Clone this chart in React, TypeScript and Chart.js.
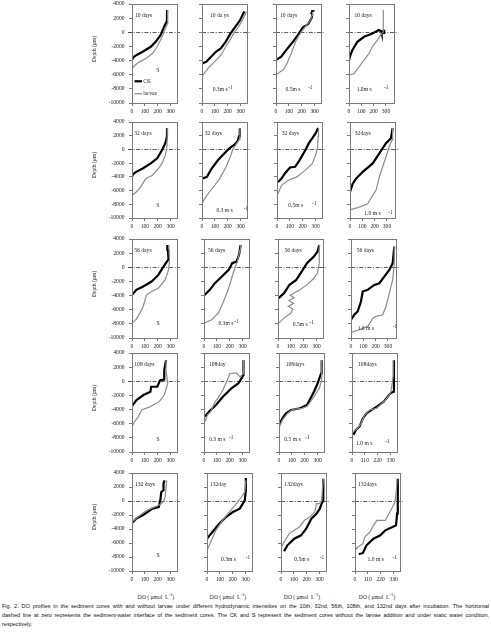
import React, { useEffect, useRef } from "react";
import { Chart, registerables } from "chart.js";

Chart.register(...registerables);

// Each profile point is [DO (µmol L-1), depth (µm)]
type Pair = [number, number];

// ---- 10 days ----
const ck10S: Pair[] = [[0, -3900], [12, -3500], [33, -3240], [83, -2760], [146, -2050], [184, -1345], [222, -400], [252, 880], [270, 1500], [272, 2400], [273, 3150]];
const lv10S: Pair[] = [[0, -5130], [20, -4700], [58, -4180], [108, -3710], [159, -3000], [196, -2050], [234, -640], [259, 550], [277, 1260], [277, 2400], [278, 3150]];
const ck10V03: Pair[] = [[0, -4420], [33, -4180], [71, -3470], [108, -2760], [146, -2290], [184, -1345], [222, -160], [259, 780], [297, 1730], [322, 2680], [330, 2950]];
const lv10V03: Pair[] = [[0, -6200], [45, -5130], [96, -4180], [146, -3240], [209, -1345], [247, -160], [285, 780], [322, 1970], [340, 2700], [345, 2950]];
const ck10V05: Pair[] = [[8, -3850], [20, -3700], [39, -3470], [79, -2530], [132, -1345], [179, -160], [210, 690], [250, 1160], [276, 1970], [282, 2500], [276, 2750], [286, 2950], [282, 3150]];
const lv10V05: Pair[] = [[8, -5930], [30, -5600], [53, -5370], [79, -4650], [118, -3000], [158, -1110], [197, 70], [237, 1020], [268, 1730], [280, 2400], [284, 2910]];
const ck10V10: Pair[] = [[0, -3950], [10, -3300], [27, -2530], [68, -1345], [122, -640], [189, -160], [243, 310], [262, 150], [265, -80], [285, -80], [285, 200], [270, 220]];
const lv10V10: Pair[] = [[0, -6080], [41, -5840], [81, -4890], [122, -3950], [162, -3000], [189, -2050], [230, -1110], [257, -400], [276, 70], [278, 1500], [276, 2400], [280, 3150]];

// ---- 32 days ----
const ck32S: Pair[] = [[0, -4000], [8, -3600], [33, -3270], [83, -2780], [146, -2040], [196, -1300], [234, -75], [259, 910], [272, 1890], [272, 2870], [272, 3100]];
const lv32S: Pair[] = [[0, -6700], [33, -6210], [58, -5720], [83, -4990], [108, -4250], [159, -3760], [196, -3020], [234, -2040], [259, -810], [272, 420], [275, 2870], [275, 3100]];
const ck32V03: Pair[] = [[5, -4250], [38, -4000], [75, -2780], [125, -1550], [175, -570], [213, 170], [250, 660], [275, 1150], [288, 1890], [293, 2870], [295, 3100]];
const lv32V03: Pair[] = [[5, -7690], [38, -6700], [88, -5480], [138, -4250], [188, -2530], [220, -1060], [238, -75], [263, 660], [288, 1400], [295, 2870], [296, 3100]];
const ck32V05: Pair[] = [[8, -4740], [35, -4250], [61, -3510], [101, -2630], [141, -2530], [176, -1550], [221, -75], [248, 910], [275, 1640], [301, 2380], [320, 3120]];
const lv32V05: Pair[] = [[8, -6460], [35, -5230], [88, -4490], [155, -4000], [221, -3020], [275, -2040], [301, -810], [315, 170], [320, 1890], [323, 3120]];
const ck32V10: Pair[] = [[0, -6210], [22, -5000], [49, -4250], [103, -3270], [184, -2040], [238, -570], [265, 170], [292, 910], [332, 1640], [346, 3120]];
const lv32V10: Pair[] = [[8, -8770], [76, -8420], [143, -7930], [184, -6700], [211, -5970], [238, -4000], [265, -2530], [292, -1060], [319, 420], [341, 1400], [346, 3120]];

// ---- 56 days ----
const ck56S: Pair[] = [[0, -3900], [34, -3190], [87, -2720], [153, -2020], [205, -1080], [245, 100], [271, 800], [284, 1130], [279, 2450], [275, 3150]];
const lv56S: Pair[] = [[0, -7890], [34, -7330], [61, -6480], [87, -5540], [113, -3900], [153, -3430], [205, -2960], [258, -1780], [284, -370], [292, 1040], [287, 3150]];
const ck56V03: Pair[] = [[5, -3900], [45, -3190], [85, -2250], [139, -1310], [192, -370], [219, 570], [253, 800], [272, 1740], [285, 3150]];
const lv56V03: Pair[] = [[5, -7890], [59, -7420], [112, -6480], [152, -4840], [192, -2960], [219, -1310], [240, -140], [259, 800], [280, 2450], [285, 3150]];
const ck56V05: Pair[] = [[5, -4370], [47, -3660], [88, -2490], [142, -1780], [184, -600], [225, 570], [279, 1510], [307, 2210], [321, 3150]];
const lv56V05: Pair[] = [[5, -7890], [47, -7190], [101, -6480], [115, -5900], [80, -5500], [120, -5100], [85, -4700], [125, -4300], [95, -3950], [170, -3190], [225, -2490], [279, -1550], [307, -840], [321, 570], [321, 3150]];
const ck56V10: Pair[] = [[0, -7420], [27, -6720], [54, -6250], [81, -4840], [95, -3430], [135, -3190], [189, -2490], [230, -2250], [270, -1310], [311, -370], [338, 570], [351, 2920]];
const lv56V10: Pair[] = [[0, -9210], [68, -8830], [135, -8360], [162, -7660], [176, -7190], [203, -6950], [257, -6720], [284, -5540], [311, -3660], [338, -1780], [351, 570], [351, 2920]];

// ---- 108 days ----
const ck108S: Pair[] = [[0, -3490], [35, -2650], [89, -1940], [143, -1480], [149, -770], [197, -770], [219, 160], [251, 250], [251, 1570], [265, 2970]];
const lv108S: Pair[] = [[0, -6390], [22, -5690], [49, -4990], [76, -4050], [143, -3580], [211, -2880], [251, -1940], [278, -310], [265, 1570], [265, 2970]];
const ck108V03: Pair[] = [[8, -4990], [40, -4280], [93, -3350], [147, -2180], [213, -1010], [267, -310], [307, 860], [307, 2970]];
const lv108V03: Pair[] = [[8, -5690], [27, -4750], [53, -4280], [80, -3110], [107, -2410], [147, -1240], [187, 400], [200, 1100], [253, 1190], [280, 630], [307, 1100], [307, 2970]];
const ck108V05: Pair[] = [[0, -6160], [27, -5220], [54, -4520], [95, -4050], [163, -3820], [218, -3350], [272, -1480], [300, -310], [327, 1100], [332, 2970]];
const lv108V05: Pair[] = [[0, -6620], [27, -5460], [68, -4520], [109, -3960], [177, -3820], [218, -3580], [272, -2180], [313, -1010], [332, 160], [332, 2970]];
const ck108V10: Pair[] = [[12, -7560], [35, -6860], [65, -6390], [94, -5220], [124, -4520], [168, -4050], [212, -3580], [271, -2880], [329, -1710], [353, -1480], [359, 160], [359, 2970]];
const lv108V10: Pair[] = [[12, -7090], [50, -6620], [79, -5920], [109, -4750], [153, -4050], [212, -3820], [285, -2650], [329, -1710], [344, -310], [353, 860], [353, 2970]];

// ---- 132 days ----
const ck132S: Pair[] = [[0, -3140], [33, -2520], [83, -2050], [120, -1570], [158, -1090], [208, -860], [220, 100], [228, 1290], [245, 1530], [245, 2480], [253, 2950]];
const lv132S: Pair[] = [[0, -3000], [45, -2280], [95, -1570], [145, -1090], [208, -620], [245, -140], [258, 570], [270, 2950]];
const ck132V03: Pair[] = [[0, -5380], [42, -4430], [95, -3240], [149, -2280], [202, -1570], [255, -1090], [294, 100], [302, 1530], [302, 3300]];
const lv132V03: Pair[] = [[0, -7040], [29, -5850], [69, -4190], [122, -2760], [175, -1570], [228, -380], [268, 570], [294, 1290], [302, 2950]];
const ck132V05: Pair[] = [[24, -7190], [50, -6330], [103, -5380], [156, -4900], [196, -3950], [236, -2520], [276, -1810], [302, -1090], [316, -380], [329, 100], [329, 3190]];
const lv132V05: Pair[] = [[3, -6660], [24, -5850], [64, -4660], [103, -4190], [143, -3710], [183, -2760], [223, -2280], [263, -1570], [276, -380], [302, -380], [316, 100], [329, 3190]];
const ck132V10: Pair[] = [[33, -7610], [68, -7420], [98, -6330], [158, -5380], [217, -4900], [259, -4190], [321, -3710], [351, -3470], [360, -1810], [366, -140], [366, 3190]];
const lv132V10: Pair[] = [[0, -7040], [24, -6570], [68, -6090], [83, -5140], [128, -4430], [158, -3470], [187, -2760], [259, -2760], [291, -1810], [321, -860], [342, -140], [354, 1530], [360, 3190]];

const ckSeries: Pair[][][] = [
  [ck10S, ck10V03, ck10V05, ck10V10],
  [ck32S, ck32V03, ck32V05, ck32V10],
  [ck56S, ck56V03, ck56V05, ck56V10],
  [ck108S, ck108V03, ck108V05, ck108V10],
  [ck132S, ck132V03, ck132V05, ck132V10],
];
const lvSeries: Pair[][][] = [
  [lv10S, lv10V03, lv10V05, lv10V10],
  [lv32S, lv32V03, lv32V05, lv32V10],
  [lv56S, lv56V03, lv56V05, lv56V10],
  [lv108S, lv108V03, lv108V05, lv108V10],
  [lv132S, lv132V03, lv132V05, lv132V10],
];

const dayLabels = [
  ["10 days", "10 da ys", "10 days", "10 days"],
  ["32 days", "32 days", "32 days", "32days"],
  ["56 days", "56 days", "56 days", "56 days"],
  ["108 days", "108day", "108days", "108days"],
  ["132 days", "132day", "132days", "132days"],
];
const dayLabelX = [
  [23, 62, 31, 45],
  [18, 21, 37, 39],
  [18, 31, 50, 47],
  [18, 39, 52, 52],
  [23, 23, 26, 26],
];
const flowLabels = [
  ["S", "0.3m s", "0.5m s", "1.0m s"],
  ["S", "0.3 m s", "0.5m s", "1.0 m s"],
  ["S", "0.3m s", "0.5m s", "1.0 m s"],
  ["S", "0.3 m s", "0.5 m s", "1.0 m s"],
  ["S", "0.3m s", "0.5m s", "1.0 m s"],
];
// [text DO, text depth, exponent DO, exponent depth]
const flowLabelPos = [
  [[189, -5370, 0, 0], [83, -8100, 205, -7800], [74, -8100, 250, -7800], [62, -8100, 284, -7800]],
  [[189, -8200, 0, 0], [112, -8900, 325, -8670], [88, -8180, 275, -7950], [116, -9400, 313, -9150]],
  [[190, -7900, 0, 0], [112, -7990, 235, -7700], [115, -8130, 245, -7850], [54, -8690, 338, -8360]],
  [[190, -8200, 0, 0], [40, -8170, 195, -7900], [41, -8260, 204, -8000], [35, -8820, 285, -8540]],
  [[190, -7800, 0, 0], [109, -8380, 302, -8100], [103, -8380, 302, -8100], [107, -8380, 321, -8100]],
];

const depthTicks = { min: -10000, max: 4000, step: 2000 };
const doMax = [
  [350, 350, 350, 365],
  [350, 350, 350, 365],
  [350, 350, 350, 365],
  [350, 350, 350, 385],
  [350, 350, 350, 385],
];
const doStep = [
  [100, 100, 100, 100],
  [100, 100, 100, 100],
  [100, 100, 100, 100],
  [100, 100, 100, 110],
  [100, 100, 100, 110],
];

// panel geometry (plot areas)
const rowTop = [4, 122, 239, 353, 473];
const rowHeight = [99, 96, 99, 99, 98];
const colLeft = [
  [132, 202, 276, 349],
  [132, 202, 277, 350],
  [132, 204, 278, 351],
  [132, 204, 279, 352],
  [132, 207, 281, 355],
];
const plotW = 45;

const SERIF = '"Liberation Serif", "Times New Roman", serif';
const SANS = '"Liberation Sans", Arial, sans-serif';
const GRAY = "#8c8c8c";
const AXIS = "#7a7a7a";
const FS = 5.6;

const decor = {
  id: "decor",
  beforeDatasetsDraw(chart: any, _args: any, o: any) {
    const { ctx, chartArea: a, scales } = chart;
    const y0 = Math.round(scales.y.getPixelForValue(0)) + 0.5;
    ctx.save();
    ctx.strokeStyle = "#333";
    ctx.lineWidth = 0.8;
    ctx.setLineDash([4, 1.6, 1, 1.6]);
    ctx.beginPath();
    ctx.moveTo(a.left - (o.col === 0 ? 4 : 0), y0);
    ctx.lineTo(a.right + 3, y0);
    ctx.stroke();
    ctx.restore();
  },
  afterDatasetsDraw(chart: any, _args: any, o: any) {
    const { ctx, chartArea: a, scales } = chart;
    const px = (v: number) => scales.x.getPixelForValue(v);
    const py = (v: number) => scales.y.getPixelForValue(v);
    ctx.save();
    ctx.strokeStyle = AXIS;
    ctx.lineWidth = 1;
    ctx.strokeRect(Math.round(a.left) + 0.5, Math.round(a.top) + 0.5, Math.round(a.right - a.left), Math.round(a.bottom - a.top));
    ctx.fillStyle = "#222";
    ctx.textBaseline = "middle";
    ctx.textAlign = "left";
    ctx.font = `${FS}px ${SERIF}`;
    ctx.fillText(o.day, px(o.dayX), py(2300));
    const [tx, ty, sx, sy] = o.flowPos;
    ctx.fillText(o.flow, px(tx), py(ty));
    if (o.col > 0) {
      ctx.font = `${FS - 0.4}px ${SERIF}`;
      ctx.fillText("-1", px(sx), py(sy));
    }
    if (o.legend) {
      ctx.font = `${FS}px ${SERIF}`;
      const rows = [
        { label: "CK", color: "#000", w: 2.2, d: -6930 },
        { label: "larvae", color: GRAY, w: 1.2, d: -8680 },
      ];
      for (const r of rows) {
        ctx.strokeStyle = r.color;
        ctx.lineWidth = r.w;
        ctx.beginPath();
        ctx.moveTo(px(20), py(r.d));
        ctx.lineTo(px(78), py(r.d));
        ctx.stroke();
        ctx.fillText(r.label, px(88), py(r.d));
      }
    }
    ctx.restore();
  },
};

function Panel({ r, c }: { r: number; c: number }) {
  const ref = useRef<HTMLCanvasElement>(null);
  const padL = c === 0 ? 42 : 6;
  const padR = 8;
  const padT = r === 0 ? 4 : 6;
  const padB = 14;
  const left = colLeft[r][c] - padL;
  const top = rowTop[r] - padT;
  const W = padL + plotW + padR;
  const H = padT + rowHeight[r] + padB;

  useEffect(() => {
    const toXY = (p: Pair[]) => p.map(([x, y]) => ({ x, y }));
    const chart = new Chart(ref.current!, {
      type: "scatter",
      data: {
        datasets: [
          { label: "larvae", data: toXY(lvSeries[r][c]), showLine: true, borderColor: GRAY, backgroundColor: GRAY, borderWidth: 1.2, pointRadius: 0, tension: 0 },
          { label: "CK", data: toXY(ckSeries[r][c]), showLine: true, borderColor: "#000", backgroundColor: "#000", borderWidth: 2.2, pointRadius: 0, tension: 0 },
        ],
      },
      options: {
        animation: false,
        responsive: false,
        events: [],
        layout: { padding: { left: 0, top: padT, right: padR, bottom: 0 } },
        plugins: {
          legend: { display: false },
          tooltip: { enabled: false },
          decor: {
            col: c,
            day: dayLabels[r][c],
            dayX: dayLabelX[r][c],
            flow: flowLabels[r][c],
            flowPos: flowLabelPos[r][c],
            legend: r === 0 && c === 0,
          },
        } as any,
        scales: {
          x: {
            type: "linear",
            min: 0,
            max: doMax[r][c],
            ticks: {
              stepSize: doStep[r][c],
              includeBounds: false,
              autoSkip: false,
              maxRotation: 0,
              padding: 2.5,
              color: "#222",
              font: { family: SERIF, size: FS },
              callback: (v: any) => String(v),
            },
            grid: { drawOnChartArea: false, drawTicks: true, tickLength: 3, color: AXIS },
            border: { display: true, color: AXIS },
            afterFit: (s: any) => {
              s.height = padB;
              s.paddingLeft = 0;
              s.paddingRight = 0;
            },
          },
          y: {
            type: "linear",
            min: depthTicks.min,
            max: depthTicks.max,
            ticks: {
              stepSize: depthTicks.step,
              display: c === 0,
              padding: 4.5,
              color: "#222",
              font: { family: SERIF, size: FS },
              callback: (v: any) => String(v),
            },
            grid: { drawOnChartArea: false, drawTicks: true, tickLength: 3, color: AXIS },
            border: { display: true, color: AXIS },
            afterFit: (s: any) => {
              s.width = padL;
              s.paddingTop = 0;
              s.paddingBottom = 0;
            },
          },
        },
      },
      plugins: [decor as any],
    });
    return () => chart.destroy();
  }, [r, c]);

  return (
    <canvas
      ref={ref}
      width={W}
      height={H}
      style={{ position: "absolute", left, top, width: W, height: H }}
    />
  );
}

const doTitleX = [156, 228, 302, 377];
const captionLines = [
  "Fig. 2. DO profiles in the sediment cores with and without larvae under different hydrodynamic intensities on the 10th, 32nd, 56th, 108th, and 132nd days after incubation. The horizontal",
  "dashed line at zero represents the sediment-water interface of the sediment cores. The CK and S represent the sediment cores without the larvae addition and under static water condition,",
  "respectively.",
];

export default function App() {
  const panels = [];
  for (let r = 0; r < 5; r++) for (let c = 0; c < 4; c++) panels.push(<Panel key={`${r}-${c}`} r={r} c={c} />);
  return (
    <div style={{ position: "absolute", left: 0, top: 0, width: 491, height: 636, background: "#fff", overflow: "hidden" }}>
      {panels}
      {rowTop.map((t, r) => (
        <div
          key={`dt${r}`}
          style={{
            position: "absolute",
            left: 94 - 30,
            top: t + rowHeight[r] / 2 - 5 - 3,
            width: 60,
            textAlign: "center",
            transform: "rotate(-90deg)",
            font: `${FS}px ${SERIF}`,
            lineHeight: "6px",
            color: "#222",
            whiteSpace: "nowrap",
          }}
        >
          Depth (μm)
        </div>
      ))}
      {doTitleX.map((x, i) => (
        <div
          key={`do${i}`}
          style={{
            position: "absolute",
            left: x - 30,
            top: 591,
            width: 60,
            textAlign: "center",
            font: `${FS}px ${SERIF}`,
            lineHeight: "7px",
            color: "#222",
            whiteSpace: "nowrap",
          }}
        >
          DO ( μmol&nbsp; L<sup style={{ fontSize: "4.5px", verticalAlign: "3px" }}>-1</sup>)
        </div>
      ))}
      <div style={{ position: "absolute", left: 2, top: 602, width: 487, font: `5.5px ${SANS}`, lineHeight: "9px", color: "#111" }}>
        {captionLines.map((ln, i) => (
          <div
            key={i}
            style={{
              textAlign: "justify",
              textAlignLast: i < captionLines.length - 1 ? "justify" : "left",
              whiteSpace: "nowrap",
            }}
          >
            {ln}
          </div>
        ))}
      </div>
    </div>
  );
}
